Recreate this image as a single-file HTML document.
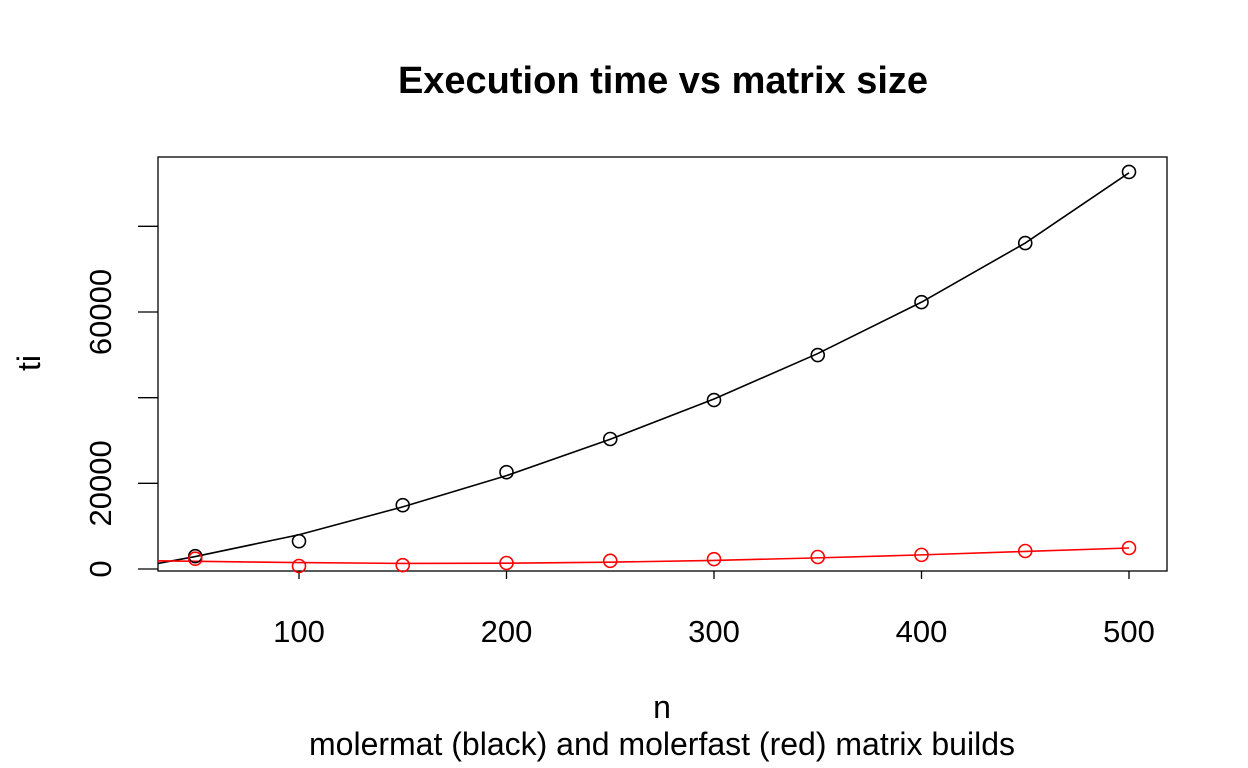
<!DOCTYPE html>
<html><head><meta charset="utf-8"><style>
body{margin:0;background:#fff}
svg{display:block;font-family:"Liberation Sans",Arial,sans-serif}
</style></head><body>
<svg id="chart" width="1248" height="768">
<text x="663" y="93" text-anchor="middle" font-size="38" font-weight="bold">Execution time vs matrix size</text>
<rect x="158" y="157" width="1009" height="414" fill="none" stroke="#000" stroke-width="1.3"/>
<g id="xaxis"></g>
<g id="yaxis"></g>
<text x="662" y="718" text-anchor="middle" font-size="32">n</text>
<text x="662" y="755" text-anchor="middle" font-size="32">molermat (black) and molerfast (red) matrix builds</text>
<text transform="translate(40,363) rotate(-90)" text-anchor="middle" font-size="32">ti</text>
<g id="marks"></g>
</svg>
<script>
const nValues=[50,100,150,200,250,300,350,400,450,500];
const blackTimes=[3000,6500,14900,22600,30350,39450,49950,62300,76100,92700];
const redTimes=[2400,700,900,1400,1900,2300,2800,3300,4200,4900];
const blackFitN=[32,50,100,150,200,250,300,350,400,450,500];
const blackFitT=[1300,2900,8000,14500,21800,30300,39700,50300,62300,76100,92500];
const redFitN=[32,100,150,200,250,300,350,400,450,500];
const redFitT=[1900,1500,1300,1350,1600,2000,2600,3300,4100,4900];
const xTicks=[100,200,300,400,500];
const yTicks=[0,20000,40000,60000,80000];
const yLabels=["0","20000","","60000",""];
const X=n=>299+(n-100)*2.075;
const Y=t=>569-t*257/60000;
const NS="http://www.w3.org/2000/svg";
function mk(tag,attrs,parent){const e=document.createElementNS(NS,tag);for(const k in attrs)e.setAttribute(k,attrs[k]);parent.appendChild(e);return e;}
const xa=document.getElementById('xaxis'),ya=document.getElementById('yaxis'),mg=document.getElementById('marks');
xTicks.forEach((v,i)=>{
 const l=mk('line',{x1:X(v),x2:X(v),y1:571,y2:579,stroke:'#000','stroke-width':1.3},xa);
 
 
 const t=mk('text',{x:X(v),y:642,'text-anchor':'middle','font-size':31},xa);
 t.textContent=v;
 
 
});
yTicks.forEach((v,i)=>{
 const l=mk('line',{x1:138,x2:158,y1:Y(v),y2:Y(v),stroke:'#000','stroke-width':1.3},ya);
 
 
 if(yLabels[i]){
  const t=mk('text',{transform:`translate(111,${Y(v)}) rotate(-90)`,'text-anchor':'middle','font-size':31},ya);
  t.textContent=yLabels[i];
  
  
 }
});
function curve(ns,ts,color,name){
 const p=mk('polyline',{points:ns.map((n,i)=>X(n)+','+Y(ts[i])).join(' '),fill:'none',stroke:color,'stroke-width':1.6},mg);
 
 
}
curve(blackFitN,blackFitT,'#000','molermat-fit-line');
curve(redFitN,redFitT,'#f00','molerfast-fit-line');
function pts(ts,color,name){
 nValues.forEach((n,i)=>{
  const c=mk('circle',{cx:X(n),cy:Y(ts[i]),r:6.5,fill:'none',stroke:color,'stroke-width':1.6},mg);
  
  
 });
}
pts(blackTimes,'#000','molermat-point');
pts(redTimes,'#f00','molerfast-point');
</script>
</body></html>
